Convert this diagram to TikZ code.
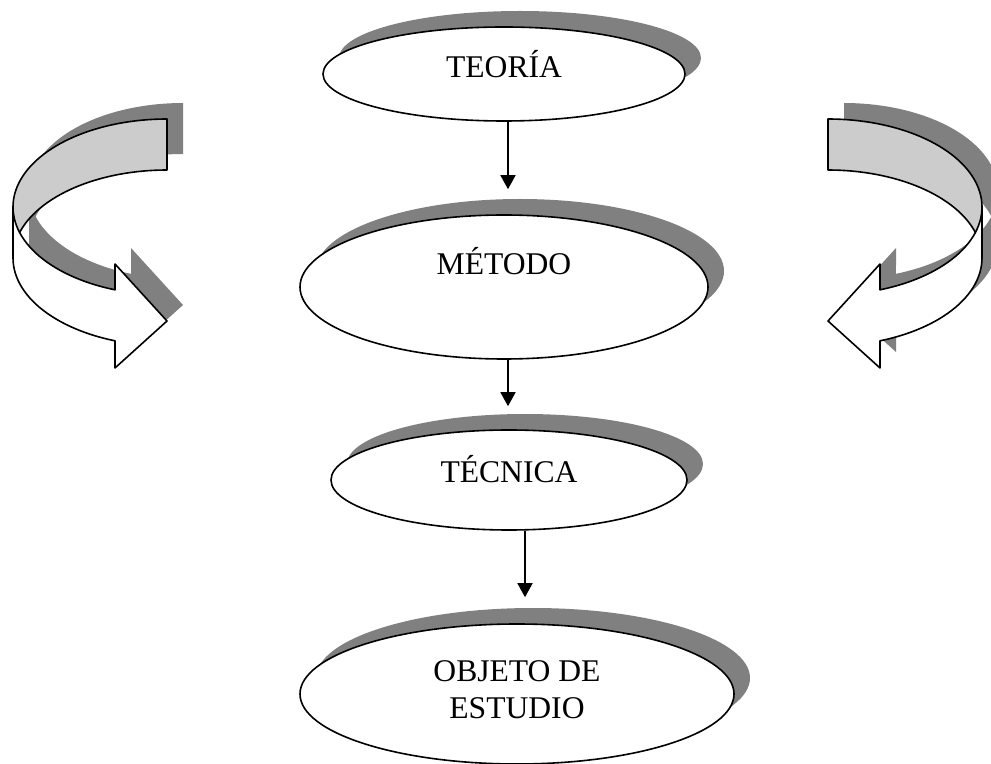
\documentclass[tikz,border=0pt]{standalone}
\usepackage{fontspec}
\setmainfont{Liberation Serif}
\usetikzlibrary{shapes.geometric,shadows,arrows.meta,calc}
\tikzstyle{oval}=[ellipse,draw,fill=white,line width=0.8pt,inner sep=0pt,drop shadow={shadow xshift=8pt,shadow yshift=8pt,fill=black!50,opacity=1},font=\fontsize{15.8}{18.5}\selectfont]
\tikzstyle{link}=[draw,line width=0.8pt,-{Triangle[width=7.5pt,length=7pt]}]
\tikzstyle{band}=[draw,line width=0.8pt,line join=round]
% ribbon of the curved arrows (back and front part)
\newcommand{\bandback}{plot[domain=270:180,samples=40] ({154*cos(\x)},{88*sin(\x)}) -- plot[domain=180:270,samples=40] ({154*cos(\x)},{51+88*sin(\x)}) -- cycle}
\newcommand{\bandfront}{plot[domain=180:109.73,samples=30] ({154*cos(\x)},{88*sin(\x)}) -- (-52,57) -- (0,114) -- (-52,161) -- plot[domain=109.73:180,samples=30] ({154*cos(\x)},{51+88*sin(\x)}) -- cycle}

\begin{document}
\begin{tikzpicture}[x=0.5pt,y=-0.5pt]
    \useasboundingbox (0,0) rectangle (991,764);

    % curved arrows left and right
    \foreach \ox/\sx in {167/1, 828/-1} {
        \begin{scope}[shift={(\ox+16,191)},xscale=\sx]
            \fill[black!50] \bandback;
            \fill[black!50] \bandfront;
        \end{scope}
        \begin{scope}[shift={(\ox,207)},xscale=\sx]
            \path[band,fill=black!20] \bandback;
            \path[band,fill=white] \bandfront;
        \end{scope}
    }

    \node[oval,minimum width=181pt,minimum height=47pt,text height=4pt,text depth=0pt] (teoria) at (504,74) {TEORÍA};
    \node[oval,minimum width=204pt,minimum height=72pt,text height=0pt,text depth=12pt] (metodo) at (504,287) {MÉTODO};
    \node[oval,minimum width=178pt,minimum height=50pt,text height=3pt,text depth=0pt] (tecnica) at (509,480) {TÉCNICA};
    \node[oval,minimum width=217pt,minimum height=70pt,align=center,text depth=4pt] (objeto) at (517,694) {OBJETO DE\\ESTUDIO};

    \foreach \source/\dest/\dx/\gap in {teoria/metodo/4/12.5pt, metodo/tecnica/4/11.5pt, tecnica/objeto/16/13pt}
        \path[link,shorten >=\gap] ($(\source.south)+(\dx,0)$) -- ($(\source.south |- \dest.north)+(\dx,0)$);

\end{tikzpicture}
\end{document}
